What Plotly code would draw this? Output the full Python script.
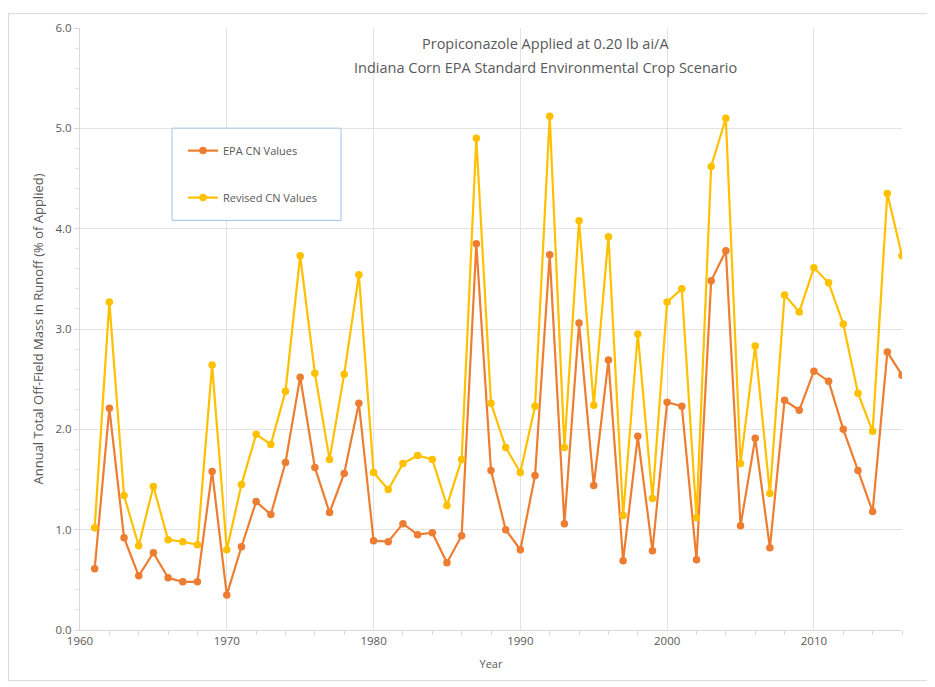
import plotly.graph_objects as go

years = list(range(1961, 2017))
epa_cn = [0.61, 2.21, 0.92, 0.54, 0.77, 0.52, 0.48, 0.48, 1.58, 0.35,
          0.83, 1.28, 1.15, 1.67, 2.52, 1.62, 1.17, 1.56, 2.26, 0.89,
          0.88, 1.06, 0.95, 0.97, 0.67, 0.94, 3.85, 1.59, 1.00, 0.80,
          1.54, 3.74, 1.06, 3.06, 1.44, 2.69, 0.69, 1.93, 0.79, 2.27,
          2.23, 0.70, 3.48, 3.78, 1.04, 1.91, 0.82, 2.29, 2.19, 2.58,
          2.48, 2.00, 1.59, 1.18, 2.77, 2.54]
revised_cn = [1.02, 3.27, 1.34, 0.84, 1.43, 0.90, 0.88, 0.85, 2.64, 0.80,
              1.45, 1.95, 1.85, 2.38, 3.73, 2.56, 1.70, 2.55, 3.54, 1.57,
              1.40, 1.66, 1.74, 1.70, 1.24, 1.70, 4.90, 2.26, 1.82, 1.57,
              2.23, 5.12, 1.82, 4.08, 2.24, 3.92, 1.14, 2.95, 1.31, 3.27,
              3.40, 1.12, 4.62, 5.10, 1.66, 2.83, 1.36, 3.34, 3.17, 3.61,
              3.46, 3.05, 2.36, 1.98, 4.35, 3.73]
title_lines = ["Propiconazole Applied at 0.20 lb ai/A",
               "Indiana Corn EPA Standard Environmental Crop Scenario"]

FONT = "Open Sans"
GRAY = "#595959"

# page offset from default body margin
OFF = 8
PL, PR, PT, PB = 80, 902, 23, 630  # plot area in page pixels
PW, PH = PR - PL, PB - PT


def px(xp):
    return (xp - PL) / PW


def py(yp):
    return (PB - yp) / PH


fig = go.Figure()
fig.add_trace(go.Scatter(x=years, y=epa_cn, mode="lines+markers", name="EPA CN Values",
                         line=dict(color="#ED7D31", width=2.2),
                         marker=dict(color="#ED7D31", size=7.5), legendgroup="a"))
fig.add_trace(go.Scatter(x=years, y=revised_cn, mode="lines+markers", name="Revised CN Values",
                         line=dict(color="#FFC000", width=2.2),
                         marker=dict(color="#FFC000", size=7.5), legendgroup="b"))

fig.update_layout(
    width=935 - OFF, height=687 - OFF,
    margin=dict(l=PL - OFF, r=935 - PR, t=PT - OFF, b=687 - PB),
    paper_bgcolor="white", plot_bgcolor="white",
    font=dict(family=FONT, color=GRAY, size=11),
    showlegend=True,
    legend=dict(x=px(183), y=py(132), xanchor="left", yanchor="top",
                borderwidth=0, bgcolor="rgba(0,0,0,0)",
                font=dict(size=11, color=GRAY), tracegroupgap=28,
                itemwidth=30),
    xaxis=dict(range=[1960, 2016], dtick=10, tick0=1960, showgrid=True,
               gridcolor="#E3E3E3", gridwidth=1, zeroline=False,
               showline=True, linecolor="#D9D9D9", ticks="", ticklen=4,
               minor=dict(dtick=2, ticks="outside", ticklen=4, tickcolor="#D9D9D9", showgrid=False),
               title=dict(text="Year", font=dict(size=11, color=GRAY), standoff=13),
               tickfont=dict(size=11.5, color=GRAY)),
    yaxis=dict(range=[0, 6], dtick=1, tickformat=".1f", showgrid=True,
               gridcolor="#E3E3E3", gridwidth=1, zeroline=False,
               showline=True, linecolor="#D9D9D9", ticks="outside", ticklen=5,
               tickcolor="#D9D9D9",
               minor=dict(dtick=0.2, ticks="outside", ticklen=4, tickcolor="#E3E3E3", showgrid=False),
               title=dict(text="Annual Total Off-Field Mass in Runoff (% of Applied)",
                          font=dict(size=13, color=GRAY), standoff=8),
               tickfont=dict(size=11.5, color=GRAY)),
)

for line_text, yc in zip(title_lines, [39, 63]):
    fig.add_annotation(text=line_text, xref="paper", yref="paper", x=px(545), y=py(yc),
                       xanchor="center", yanchor="middle", showarrow=False,
                       font=dict(size=14.5, color=GRAY, family=FONT))

# legend box
fig.add_shape(type="rect", xref="paper", yref="paper",
              x0=px(172), x1=px(341), y0=py(217), y1=py(124),
              line=dict(color="#9DC3E6", width=1), fillcolor="white", layer="above")

# outer chart border
fig.add_shape(type="rect", xref="paper", yref="paper",
              x0=px(OFF + 0.5), x1=px(929), y0=py(681), y1=py(OFF + 0.5),
              line=dict(color="#D9D9D9", width=1), layer="below")

fig.write_html("out.html")
